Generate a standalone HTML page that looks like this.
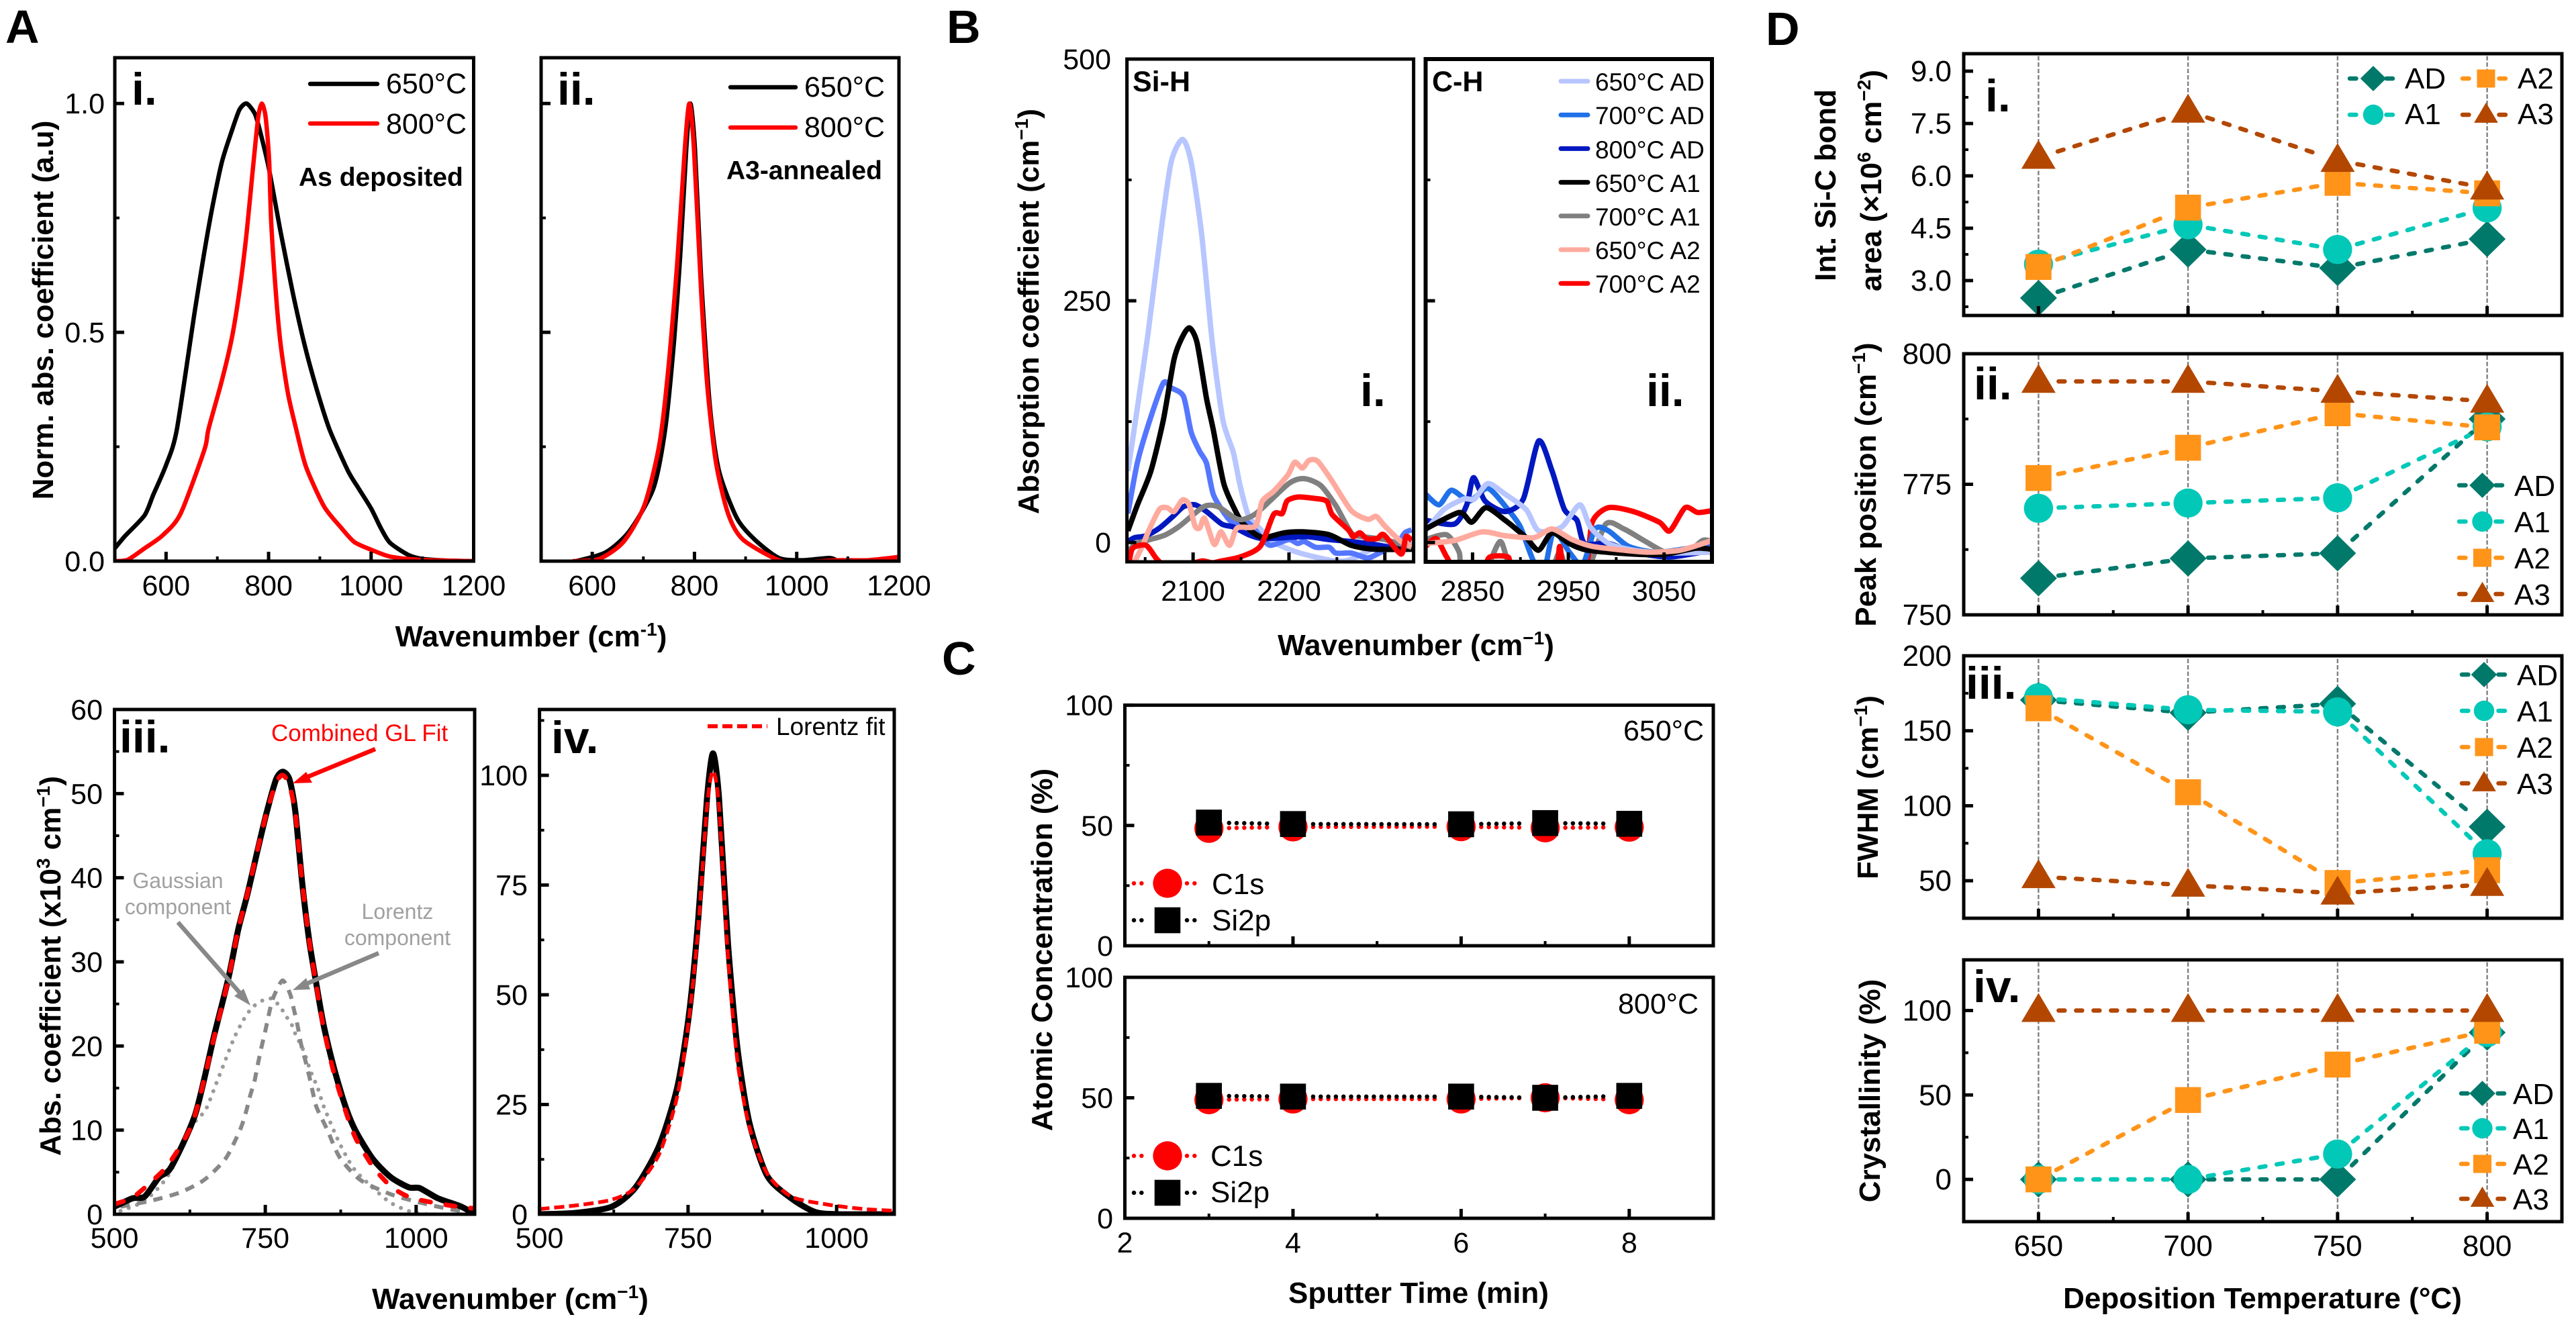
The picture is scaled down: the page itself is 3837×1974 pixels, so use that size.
<!DOCTYPE html>
<html lang="en">
<head>
<meta charset="utf-8">
<title>SiC characterisation figure</title>
<style>
html,body{margin:0;padding:0;background:#fff;}
svg{display:block;}
text{font-family:"Liberation Sans",sans-serif;fill:#000;}
.bt{font-weight:bold;font-size:44px;}
.pl{font-weight:bold;font-size:70px;}
.sub{font-weight:bold;font-size:68px;}
.lg{font-size:43px;}
</style>
</head>
<body>
<svg id="fig" xmlns="http://www.w3.org/2000/svg" width="3837" height="1974" viewBox="0 0 3837 1974">
<rect x="0" y="0" width="3837" height="1974" fill="#fff"/>
<g id="marks"></g>
<g>
<text class="pl" x="8" y="64">A</text>
<text class="pl" x="1410" y="64">B</text>
<text class="pl" x="1403" y="1005">C</text>
<text class="pl" x="2630" y="67">D</text>

<text class="sub" x="196" y="156">i.</text>
<text class="sub" x="830" y="156">ii.</text>
<text class="sub" x="178" y="1121">iii.</text>
<text class="sub" x="821" y="1122">iv.</text>
<text class="lg" x="575" y="139">650°C</text>
<text class="lg" x="575" y="199">800°C</text>
<text class="lg" x="1198" y="144">650°C</text>
<text class="lg" x="1198" y="204">800°C</text>
<text x="445" y="277" font-size="39" font-weight="bold">As deposited</text>
<text x="1082" y="267" font-size="39" font-weight="bold">A3-annealed</text>
<text class="bt" x="791" y="963" text-anchor="middle">Wavenumber (cm<tspan dy="-16" font-size="28">-1</tspan><tspan dy="16">)</tspan></text>
<text class="bt" transform="translate(79,462) rotate(-90)" text-anchor="middle">Norm. abs. coefficient (a.u)</text>
<text x="404" y="1104" font-size="35" style="fill:#f00">Combined GL Fit</text>
<text x="265" y="1323" font-size="32" text-anchor="middle" style="fill:#a0a0a0">Gaussian</text>
<text x="265" y="1362" font-size="32" text-anchor="middle" style="fill:#a0a0a0">component</text>
<text x="592" y="1369" font-size="32" text-anchor="middle" style="fill:#a0a0a0">Lorentz</text>
<text x="592" y="1408" font-size="32" text-anchor="middle" style="fill:#a0a0a0">component</text>
<text x="1156" y="1095" font-size="37">Lorentz fit</text>
<text class="bt" x="760" y="1950" text-anchor="middle">Wavenumber (cm<tspan dy="-16" font-size="28">−1</tspan><tspan dy="16">)</tspan></text>
<text class="bt" transform="translate(90,1439) rotate(-90)" text-anchor="middle">Abs.  coefficient (x10<tspan dy="-16" font-size="28">3</tspan><tspan dy="16"> cm</tspan><tspan dy="-16" font-size="28">−1</tspan><tspan dy="16">)</tspan></text>

<text x="1687" y="136" font-size="43" font-weight="bold">Si-H</text>
<text x="2133" y="136" font-size="43" font-weight="bold">C-H</text>
<text class="sub" x="2026" y="605">i.</text>
<text class="sub" x="2452" y="605">ii.</text>
<text class="bt" x="2109" y="976" text-anchor="middle">Wavenumber (cm<tspan dy="-16" font-size="28">−1</tspan><tspan dy="16">)</tspan></text>
<text class="bt" transform="translate(1547,464) rotate(-90)" text-anchor="middle">Absorption coefficient (cm<tspan dy="-16" font-size="28">−1</tspan><tspan dy="16">)</tspan></text>
<g font-size="37">
<text x="2376" y="135">650°C AD</text>
<text x="2376" y="185">700°C AD</text>
<text x="2376" y="236">800°C AD</text>
<text x="2376" y="286">650°C A1</text>
<text x="2376" y="336">700°C A1</text>
<text x="2376" y="386">650°C A2</text>
<text x="2376" y="436">700°C A2</text>
</g>

<text class="lg" x="2418" y="1103">650°C</text>
<text class="lg" x="2410" y="1510">800°C</text>
<text font-size="44" x="1805" y="1332">C1s</text>
<text font-size="44" x="1805" y="1386">Si2p</text>
<text font-size="44" x="1803" y="1737">C1s</text>
<text font-size="44" x="1803" y="1791">Si2p</text>
<text class="bt" x="2113" y="1941" text-anchor="middle">Sputter Time (min)</text>
<text class="bt" transform="translate(1567,1415) rotate(-90)" text-anchor="middle">Atomic Concentration (%)</text>

<text class="sub" x="2957" y="166">i.</text>
<text class="sub" x="2940" y="595">ii.</text>
<text class="sub" x="2928" y="1041">iii.</text>
<text class="sub" x="2939" y="1493">iv.</text>
<text class="bt" transform="translate(2734,276) rotate(-90)" text-anchor="middle">Int. Si-C bond</text>
<text class="bt" transform="translate(2802,269) rotate(-90)" text-anchor="middle">area (×10<tspan dy="-16" font-size="28">6</tspan><tspan dy="16"> cm</tspan><tspan dy="-16" font-size="28">−2</tspan><tspan dy="16">)</tspan></text>
<text class="bt" transform="translate(2794,722) rotate(-90)" text-anchor="middle">Peak position (cm<tspan dy="-16" font-size="28">−1</tspan><tspan dy="16">)</tspan></text>
<text class="bt" transform="translate(2797,1173) rotate(-90)" text-anchor="middle">FWHM (cm<tspan dy="-16" font-size="28">−1</tspan><tspan dy="16">)</tspan></text>
<text class="bt" transform="translate(2800,1625) rotate(-90)" text-anchor="middle">Crystallinity (%)</text>
<text class="bt" x="3370" y="1949" text-anchor="middle">Deposition Temperature (°C)</text>
<g font-size="44">
<text x="3582" y="132">AD</text>
<text x="3582" y="185">A1</text>
<text x="3750" y="132">A2</text>
<text x="3750" y="185">A3</text>
<text x="3745" y="739">AD</text>
<text x="3745" y="793">A1</text>
<text x="3745" y="847">A2</text>
<text x="3745" y="901">A3</text>
<text x="3749" y="1021">AD</text>
<text x="3749" y="1075">A1</text>
<text x="3749" y="1129">A2</text>
<text x="3749" y="1183">A3</text>
<text x="3743" y="1645">AD</text>
<text x="3743" y="1697">A1</text>
<text x="3743" y="1750">A2</text>
<text x="3743" y="1802">A3</text>
</g>
</g>
</svg>
<script>
/* ---------- Panel A.i ---------- */
const a1BlackX=[500,520,558,575,600,621,657,685,708,727,743,757,773,783,800.6,824,847.5,871,894,919,955,975,1000,1020,1037,1072,1100,1150,1200];
const a1BlackY=[.028,.055,.1,.145,.21,.2875,.5535,.742,.868,.936,.986,1,.978,.941,.858,.716,.585,.469,.375,.2875,.197,.16,.115,.07,.04,.014,.005,.001,0];
const a1RedX=[500,525,558,593,628,675,682.5,708,727,740.5,754.5,764,773,780,786.6,794,801,805,815,824,838,854,873,908,940,967,1000,1037,1095,1200];
const a1RedY=[0,.003,.028,.056,.103,.244,.2875,.391,.48,.569,.69,.795,.899,.972,1,.972,.878,.742,.575,.469,.365,.2875,.206,.12,.075,.042,.025,.01,.003,0];
/* ---------- Panel A.ii ---------- */
const a2BlackX=[568,626,673,720,743,760,772,784,792,801,813,830,848,883,918,965,1011,1064,1081];
const a2BlackY=[0,.019,.066,.16,.29,.48,.665,.9,1,.9,.62,.34,.197,.094,.047,.007,.002,.007,0];
const a2RedX=[562,614,661,702,731,748,766,781,790,799,813,825,842,866,895,965,1011,1081,1140,1198];
const a2RedY=[0,.005,.042,.122,.253,.41,.647,.9,1,.9,.59,.384,.216,.103,.047,.002,-.002,.002,.002,.009];
/* ---------- Panel A.iii ---------- */
const a3DataX=[500,530,550,574,594,634,665,689,705,720.6,736,752,768,779,790,799.6,811,823,835,847,863,882,899,928,958,988,1006,1036,1075,1097];
const a3DataY=[.9,1.9,2.1,4.4,5.6,11.9,21.2,28.1,33.8,38.1,42.9,47.7,51.7,52.6,51.7,48,39.5,32.4,27.2,22.4,17.6,13,10,6.6,4.4,3.2,3.1,1.9,.9,0];
const a3FitX=[500,530,560,590,630,665,689,705,720,736,752,768,779,790,800,811,823,835,847,863,882,900,930,960,990,1020,1060,1095];
const a3FitY=[1.2,2,3.8,6,11,21,28,33.8,38,43,47.7,51.3,52.2,51,47.5,39.5,32.4,27,22,17,12.5,9,5.5,3.2,2,1.5,1,.7];
const a3GaussX=[510,550,589,629,651,669,681,698.6,713,723,732,748,762,776,785,794,800,813.7,825,837,847,872,897,932,957,987,1016,1095];
const a3GaussY=[.4,1.6,4.6,10.5,12.4,15.6,17.8,21,23,24.1,24.8,25.5,25.6,24.5,23.5,22.5,21.4,19.4,17,15,12.8,8.6,5.4,2.9,1.4,.4,0,0];
const a3LorentzX=[510,560,609,649,684,708,717.8,724.6,732,737.6,743.5,750,756,763,778.5,791,797.6,803.6,808.7,817,822.9,829,835,853,873,907,957,1006,1056,1095];
const a3LorentzY=[.9,1.6,2.6,4.1,6.6,10,12.1,14,15.8,17.8,19.8,21.8,23.8,25.7,27.8,26.2,24.3,22.4,20.4,18.1,16.4,14.4,12.7,10,6.8,4.1,2.4,1.4,.6,.15];
/* ---------- Panel A.iv ---------- */
const a4DataX=[500,561,621,661,701,732,752,767,782,792,802,817,833,853,883,924,964,1005,1096];
const a4DataY=[0,.3,1.7,6,15.5,29,46,67,95,105,95,62,38,21,8.8,3.6,.5,0,0];
const a4FitX=[500,561,621,661,701,732,752,767,782,792,802,817,833,853,883,924,985,1045,1096];
const a4FitY=[1.2,2,3.3,6,13.6,27,45,65,93,101,93,59,35,20,9.3,4,2.2,1.2,.8];
/* ---------- Panel B.i (Si-H) ---------- */
const bi650adX=[2032,2042,2053,2066,2077,2089,2098,2109,2120,2131,2142,2149,2158,2170,2181,2200,2219,2247,2263,2289,2312,2330];
const bi650adY=[74,140,216,318,393,417,393,318,207,127,93,59,27,14,2,-7,-13,-19,-18,-6,-2,-2];
const bi700adX=[2032,2042,2055,2069,2077,2090,2098,2107,2114,2121,2132,2142,2158,2172,2181,2200,2209,2216,2228,2242,2249,2265,2282,2296,2312,2321,2328];
const bi700adY=[30,83,127,165,160,151,114,94,82,50,31,20,20,4,-3,3,-1,1,-5,-5,-11,-11,-16,-10,-2,10,13];
const bi800adX=[2032,2039,2051,2065,2079,2090,2102,2114,2130,2142,2158,2172,2195,2219,2242,2265,2289,2312,2330];
const bi800adY=[1,5,7,15,27,37,39,32,19,16,8,4,5,6,3,1,-2,-6,-6];
const bi650a1X=[2032,2042,2056,2069,2080,2088,2096,2104,2114,2121,2132,2144,2151,2163,2174,2195,2214,2242,2265,2289,2330];
const bi650a1Y=[12,39,74,127,189,211,222,207,149,117,61,33,21,10,5,10,11,8,-3,-7,-7];
const bi700a1X=[2032,2041,2069,2086,2111,2126,2144,2153,2167,2200,2216,2233,2249,2265,2277,2300,2328];
const bi700a1Y=[-10,-1,7,17,37,37,25,24,31,61,66,59,38,10,6,3,-5];
const bi650a2X=[2039,2046,2055,2065,2073,2080,2089,2096,2102,2107,2112,2122,2129,2138,2146,2165,2172,2184,2199,2206,2214,2221,2230,2244,2265,2282,2291,2300,2317,2328];
const bi650a2Y=[-20,-6,15,34.5,36,32,44,39,17,15,25,-2,11,-3,15,17,42.5,53,70,83,77,85,84,65,33,24,27,17,1,-4];
const bi700a2X=[2033,2037,2051,2062,2070,2100,2110,2120,2130,2149,2170,2184,2193,2198,2209,2223,2239,2245,2262,2267,2274,2281,2292,2299,2317,2322,2328];
const bi700a2Y=[-22,-6,-3,-17,-22,-21,-19,-21,-19,-15,-4,29,30,43,47,46,43,29,13,6,10,4,4,8,-12,6,2];
/* ---------- Panel B.ii (C-H) ---------- */
const bii650adX=[2801,2820,2841,2852,2866,2884,2906,2919,2943,2962,2973,2992,3018,3051,3100];
const bii650adY=[12,34,45,45,61,50,34,12,16,39,16,-1,-8,-11,-10];
const bii700adX=[2801,2815,2828,2847,2866,2887,2900,2914,2925,2935,2951,2965,2978,2992,3013,3045,3100];
const bii700adY=[50,39,54,43,56,34,16,-20,-28,12,-10,-23,14,12,-4,-10,-2];
const bii800adX=[2801,2831,2844,2851,2863,2884,2903,2919,2933,2946,2959,2967,2992,3018,3056,3100];
const bii800adY=[23,19,39,67,43,32,45,105,74,34,23,-1,-1,-10,-15,-8];
const bii650a1X=[2801,2836,2849,2864,2884,2906,2919,2933,2951,2970,3018,3051,3083,3100];
const bii650a1Y=[14,31,21,36,23,5,-8,10,-1,-8,-12,-12,-6,-7];
const bii700a1X=[2801,2823,2836,2839,2863,2879,2892,2930,2941,2949,2970,2989,3008,3029,3051,3072,3090,3100];
const bii700a1Y=[3,8,-10,-28,-28,1,-28,-28,-10,-28,-28,19,14,2,-10,-12,2,1];
const bii650a2X=[2801,2831,2860,2884,2914,2933,2954,2975,3008,3034,3067,3100];
const bii650a2Y=[-1,2,11,7,5,14,3,-4,-8,-10,-8,2];
const bii700a2X=[2801,2812,2823,2833,2860,2868,2887,2893,2935,2941,2946,2968,2975,2992,3018,3045,3056,3072,3085,3100];
const bii700a2Y=[-4,4,-15,-28,-28,-15,-15,-28,-28,-4,-28,-28,21,36,32,21,12,36,31,33];
/* ---------- Panel C ---------- */
const cTimes=[3,4,6,7,8];
const cTopC1s=[48.8,49.4,49.5,49,49.3];
const cTopSi2p=[51.2,50.6,50.5,51,50.7];
const cBotC1s=[49.2,49.5,49.5,50,49.2];
const cBotSi2p=[50.8,50.5,50.5,50,50.8];
/* ---------- Panel D ---------- */
const dTemps=[650,700,750,800];
const d1AD=[2.5,3.89,3.36,4.19];
const d1A1=[3.47,4.6,3.89,5.08];
const d1A2=[3.39,5.09,5.8,5.5];
const d1A3=[6.53,7.85,6.44,5.65];
const d2AD=[757,760.8,761.8,787.5];
const d2A1=[770.4,771.4,772.4,786];
const d2A2=[776.2,782,788.6,785.9];
const d2A3=[794.7,794.7,792.8,790.9];
const d3AD=[170.5,162,168,86];
const d3A1=[172,164,162.6,68];
const d3A2=[165,109,48.5,57];
const d3A3=[52.7,47,41.7,47.5];
const d4AD=[0,0,0,87];
const d4A1=[0,0,15,87];
const d4A2=[0,47,68,88];
const d4A3=[100,100,100,100];
/* ---------- Tick values and labels ---------- */
const aTopXMajor=[600,800,1000,1200];
const aTopXLabels=['600','800','1000','1200'];
const aTopXMinor=[700,900,1100];
const aTopYMajor=[0,.5,1];
const aTopYLabels=['0.0','0.5','1.0'];
const aTopYMinor=[.25,.75];
const aBotXMajor=[500,750,1000];
const aBotXLabels=['500','750','1000'];
const aBotXMinor=[625,875];
const a3YMajor=[0,10,20,30,40,50,60];
const a3YLabels=['0','10','20','30','40','50','60'];
const a3YMinor=[5,15,25,35,45,55];
const a4YMajor=[0,25,50,75,100];
const a4YLabels=['0','25','50','75','100'];
const a4YMinor=[12.5,37.5,62.5,87.5,112.5];
const b1XMajor=[2100,2200,2300];
const b1XLabels=['2100','2200','2300'];
const b1XMinor=[2050,2150,2250];
const b2XMajor=[2850,2950,3050];
const b2XLabels=['2850','2950','3050'];
const b2XMinor=[2900,3000];
const bYMajor=[0,250,500];
const bYLabels=['0','250','500'];
const bYMinor=[125,375];
const cXMajor=[2,4,6,8];
const cXLabels=['2','4','6','8'];
const cXMinor=[3,5,7];
const cYMajor=[0,50,100];
const cYLabels=['0','50','100'];
const cYMinor=[25,75];
const dXMajor=[650,700,750,800];
const dXLabels=['650','700','750','800'];
const dXMinor=[675,725,775];
const d1YMajor=[3,4.5,6,7.5,9];
const d1YLabels=['3.0','4.5','6.0','7.5','9.0'];
const d1YMinor=[2.25,3.75,5.25,6.75,8.25];
const d2YMajor=[750,775,800];
const d2YLabels=['750','775','800'];
const d2YMinor=[762.5,787.5];
const d3YMajor=[50,100,150,200];
const d3YLabels=['50','100','150','200'];
const d3YMinor=[75,125,175];
const d4YMajor=[0,50,100];
const d4YLabels=['0','50','100'];
const d4YMinor=[25,75];

const NS='http://www.w3.org/2000/svg';
const root=document.getElementById('marks');
let clipCount=0;
function mk(tag,parent,attrs,name){
  const el=document.createElementNS(NS,tag);
  for(const k in attrs) el.setAttribute(k,attrs[k]);
  
  
  parent.appendChild(el);
  return el;
}
function axes(o){
  const g=mk('g',root,{},o.name);
  const sx=v=>o.px[0]+(v-o.xlim[0])/(o.xlim[1]-o.xlim[0])*(o.px[1]-o.px[0]);
  const sy=v=>o.py[0]+(v-o.ylim[0])/(o.ylim[1]-o.ylim[0])*(o.py[1]-o.py[0]);
  const id='clip'+(clipCount++);
  const cp=mk('clipPath',g,{id:id},o.name+'-clip');
  mk('rect',cp,{x:o.px[0],y:o.py[1],width:o.px[1]-o.px[0],height:o.py[0]-o.py[1]},o.name+'-clip-rect');
  const plot=mk('g',g,{'clip-path':'url(#'+id+')'},o.name+'-curves');
  const free=mk('g',g,{},o.name+'-series');
  return {g,sx,sy,plot,free,o};
}
function finish(a){
  const o=a.o,g=a.g,lw=o.lw||5;
  const maj=14,min=7;
  const tick=(x1,y1,x2,y2,n,w)=>mk('line',g,{x1,y1,x2,y2,stroke:'#000','stroke-width':w},n);
  (o.xMajor||[]).forEach((v,i)=>{
    tick(a.sx(v),o.py[0],a.sx(v),o.py[0]-maj,o.name+'-x-tick',5);
    if(o.xLabels){
      const t=mk('text',g,{x:a.sx(v),y:o.xBase,'text-anchor':'middle','font-size':o.fs||43},o.name+'-x-tick-label');
      t.textContent=o.xLabels[i];
    }
  });
  (o.xMinor||[]).forEach(v=>tick(a.sx(v),o.py[0],a.sx(v),o.py[0]-min,o.name+'-x-minor-tick',4));
  (o.yMajor||[]).forEach((v,i)=>{
    tick(o.px[0],a.sy(v),o.px[0]+maj,a.sy(v),o.name+'-y-tick',5);
    if(o.yLabels){
      const t=mk('text',g,{x:o.yRight,y:a.sy(v)+15,'text-anchor':'end','font-size':o.fs||43},o.name+'-y-tick-label');
      t.textContent=o.yLabels[i];
    }
  });
  (o.yMinor||[]).forEach(v=>tick(o.px[0],a.sy(v),o.px[0]+min,a.sy(v),o.name+'-y-minor-tick',4));
  mk('rect',g,{x:o.px[0],y:o.py[1],width:o.px[1]-o.px[0],height:o.py[0]-o.py[1],fill:'none',stroke:'#000','stroke-width':lw},o.name+'-frame');
}
/* smooth curve through the data points */
function curve(a,xs,ys,style,name){
  const p=xs.map((x,i)=>[a.sx(x),a.sy(ys[i])]);
  let d='M'+p[0][0].toFixed(1)+' '+p[0][1].toFixed(1);
  for(let i=0;i<p.length-1;i++){
    const p0=p[Math.max(i-1,0)],p1=p[i],p2=p[i+1],p3=p[Math.min(i+2,p.length-1)];
    const c1=[p1[0]+(p2[0]-p0[0])/8,p1[1]+(p2[1]-p0[1])/8];
    const c2=[p2[0]-(p3[0]-p1[0])/8,p2[1]-(p3[1]-p1[1])/8];
    d+='C'+c1[0].toFixed(1)+' '+c1[1].toFixed(1)+' '+c2[0].toFixed(1)+' '+c2[1].toFixed(1)+' '+p2[0].toFixed(1)+' '+p2[1].toFixed(1);
  }
  const at=Object.assign({d:d,fill:'none','stroke-linejoin':'round'},style);
  return mk('path',a.plot,at,name);
}
function marker(parent,kind,x,y,color,k,name){
  if(kind==='diamond'){
    mk('polygon',parent,{points:[[x-27.5*k,y],[x,y-27*k],[x+27.5*k,y],[x,y+27*k]].map(q=>q.join(',')).join(' '),fill:color},name);
  }else if(kind==='circle'){
    mk('ellipse',parent,{cx:x,cy:y,rx:21.7*k,ry:21.7*k,fill:color},name);
  }else if(kind==='square'){
    mk('rect',parent,{x:x-19.3*k,y:y-19.3*k,width:38.6*k,height:38.6*k,fill:color},name);
  }else{
    mk('polygon',parent,{points:[[x-25.5*k,y+17*k],[x,y-26*k],[x+25.5*k,y+17*k]].map(q=>q.join(',')).join(' '),fill:color},name);
  }
}
function series(a,xs,ys,kind,color,dash,lw,name){
  const gg=mk('g',a.free,{},name);
  const gap=30;
  for(let i=0;i<xs.length-1;i++){
    const x1=a.sx(xs[i]),y1=a.sy(ys[i]),x2=a.sx(xs[i+1]),y2=a.sy(ys[i+1]);
    const L=Math.hypot(x2-x1,y2-y1);
    if(L<=2*gap) continue;
    const ux=(x2-x1)/L,uy=(y2-y1)/L;
    mk('line',gg,{x1:x1+ux*gap,y1:y1+uy*gap,x2:x2-ux*gap,y2:y2-uy*gap,stroke:color,'stroke-width':lw,'stroke-dasharray':dash,'stroke-linecap':'round'},name+'-segment');
  }
  xs.forEach((x,i)=>marker(gg,kind,a.sx(x),a.sy(ys[i]),color,1,name+'-point'));
}
function legendLine(parent,x1,x2,y,color,width,dash,name){
  const at={x1,x2,y1:y,y2:y,stroke:color,'stroke-width':width};
  if(dash){
    at['stroke-dasharray']=dash;
  }else{
    at['stroke-linecap']='round';
  }
  return mk('line',parent,at,name);
}
function arrow(parent,sx1,sy1,sx2,sy2,tip,b1,b2,color,name){
  mk('line',parent,{x1:sx1,y1:sy1,x2:sx2,y2:sy2,stroke:color,'stroke-width':6.5},name+'-shaft');
  mk('polygon',parent,{points:[tip,b1,b2].map(q=>q.join(',')).join(' '),fill:color},name+'-head');
}

const black='#000',red='#f00';
/* ===== A.i ===== */
const ai=axes({name:'chart-a-i',px:[171,705.5],py:[836,86],xlim:[500,1200],ylim:[0,1.1],xMajor:aTopXMajor,xLabels:aTopXLabels,xMinor:aTopXMinor,yMajor:aTopYMajor,yLabels:aTopYLabels,yMinor:aTopYMinor,xBase:887,yRight:156});
curve(ai,a1BlackX,a1BlackY,{stroke:black,'stroke-width':6.5},'a-i-650-curve');
curve(ai,a1RedX,a1RedY,{stroke:red,'stroke-width':6.5},'a-i-800-curve');
legendLine(ai.free,462,562,125,black,6.5,null,'a-i-legend-line-650');
legendLine(ai.free,462,562,184,red,6.5,null,'a-i-legend-line-800');
finish(ai);
/* ===== A.ii ===== */
const aii=axes({name:'chart-a-ii',px:[806,1339],py:[836,86],xlim:[500,1200],ylim:[0,1.1],xMajor:aTopXMajor,xLabels:aTopXLabels,xMinor:aTopXMinor,yMajor:aTopYMajor,yMinor:aTopYMinor,xBase:887});
curve(aii,a2BlackX,a2BlackY,{stroke:black,'stroke-width':6.5},'a-ii-650-curve');
curve(aii,a2RedX,a2RedY,{stroke:red,'stroke-width':6.5},'a-ii-800-curve');
legendLine(aii.free,1088,1185,130,black,6.5,null,'a-ii-legend-line-650');
legendLine(aii.free,1088,1185,190,red,6.5,null,'a-ii-legend-line-800');
finish(aii);
/* ===== A.iii ===== */
const aiii=axes({name:'chart-a-iii',px:[170.5,707],py:[1809,1057],xlim:[500,1097],ylim:[0,60],xMajor:aBotXMajor,xLabels:aBotXLabels,xMinor:aBotXMinor,yMajor:a3YMajor,yLabels:a3YLabels,yMinor:a3YMinor,xBase:1859,yRight:153});
curve(aiii,a3GaussX,a3GaussY,{stroke:'#9a9a9a','stroke-width':6,'stroke-dasharray':'0.01 13','stroke-linecap':'round'},'gaussian-component-curve');
curve(aiii,a3LorentzX,a3LorentzY,{stroke:'#888','stroke-width':6,'stroke-dasharray':'14 11'},'lorentz-component-curve');
curve(aiii,a3DataX,a3DataY,{stroke:black,'stroke-width':9},'measured-curve');
curve(aiii,a3FitX,a3FitY,{stroke:red,'stroke-width':7,'stroke-dasharray':'14 23','stroke-linecap':'round'},'combined-gl-fit-curve');
arrow(aiii.free,559,1116,459,1157,[436,1167],[456,1150],[465,1166],red,'combined-fit-arrow');
arrow(aiii.free,265,1374,358,1480,[373,1498],[363,1473],[349,1484],'#888','gaussian-arrow');
arrow(aiii.free,564,1420,458,1465,[436,1475],[456,1457],[462,1474],'#888','lorentz-arrow');
finish(aiii);
/* ===== A.iv ===== */
const aiv=axes({name:'chart-a-iv',px:[803.6,1332],py:[1809,1057],xlim:[500,1097],ylim:[0,115],xMajor:aBotXMajor,xLabels:aBotXLabels,xMinor:aBotXMinor,yMajor:a4YMajor,yLabels:a4YLabels,yMinor:a4YMinor,xBase:1859,yRight:786});
curve(aiv,a4DataX,a4DataY,{stroke:black,'stroke-width':9},'iv-measured-curve');
curve(aiv,a4FitX,a4FitY,{stroke:red,'stroke-width':5.5,'stroke-dasharray':'15 7'},'lorentz-fit-curve');
legendLine(aiv.free,1054,1143,1082,red,6,'15 7','lorentz-fit-legend-line');
finish(aiv);

/* ===== B ===== */
const cAD1='#b8c6ff',cAD2='#5577ff',cAD2b='#2070e8',cAD3='#0018c0',cA1a='#000',cA1b='#808080',cA2a='#ffaa9e',cA2b='#f00';
const bi=axes({name:'chart-b-i',px:[1678.6,2105.6],py:[837,88],xlim:[2031,2330],ylim:[-20,500],xMajor:b1XMajor,xLabels:b1XLabels,xMinor:b1XMinor,yMajor:bYMajor,yLabels:bYLabels,yMinor:bYMinor,xBase:895,yRight:1655,lw:5});
curve(bi,bi650adX,bi650adY,{stroke:cAD1,'stroke-width':8},'b-i-650-ad-curve');
curve(bi,bi700adX,bi700adY,{stroke:cAD2,'stroke-width':8},'b-i-700-ad-curve');
curve(bi,bi800adX,bi800adY,{stroke:cAD3,'stroke-width':8},'b-i-800-ad-curve');
curve(bi,bi650a1X,bi650a1Y,{stroke:cA1a,'stroke-width':8},'b-i-650-a1-curve');
curve(bi,bi700a1X,bi700a1Y,{stroke:cA1b,'stroke-width':8},'b-i-700-a1-curve');
curve(bi,bi650a2X,bi650a2Y,{stroke:cA2a,'stroke-width':8},'b-i-650-a2-curve');
curve(bi,bi700a2X,bi700a2Y,{stroke:cA2b,'stroke-width':8},'b-i-700-a2-curve');
finish(bi);
const bii=axes({name:'chart-b-ii',px:[2123.5,2550],py:[837,88],xlim:[2801,3100],ylim:[-20,500],xMajor:b2XMajor,xLabels:b2XLabels,xMinor:b2XMinor,yMajor:bYMajor,yMinor:bYMinor,xBase:895,lw:6});
curve(bii,bii700a1X,bii700a1Y,{stroke:cA1b,'stroke-width':8},'b-ii-700-a1-curve');
curve(bii,bii700a2X,bii700a2Y,{stroke:cA2b,'stroke-width':8},'b-ii-700-a2-curve');
curve(bii,bii700adX,bii700adY,{stroke:cAD2b,'stroke-width':8},'b-ii-700-ad-curve');
curve(bii,bii800adX,bii800adY,{stroke:cAD3,'stroke-width':8},'b-ii-800-ad-curve');
curve(bii,bii650adX,bii650adY,{stroke:cAD1,'stroke-width':8},'b-ii-650-ad-curve');
curve(bii,bii650a1X,bii650a1Y,{stroke:cA1a,'stroke-width':8},'b-ii-650-a1-curve');
curve(bii,bii650a2X,bii650a2Y,{stroke:cA2a,'stroke-width':8},'b-ii-650-a2-curve');
const bLegendColors=[cAD1,cAD2b,cAD3,cA1a,cA1b,cA2a,cA2b];
const bLegendNames=['650-ad','700-ad','800-ad','650-a1','700-a1','650-a2','700-a2'];
bLegendColors.forEach((c,i)=>legendLine(bii.free,2325,2365,121+i*50.2,c,7,null,'b-legend-line-'+bLegendNames[i]));
finish(bii);

/* ===== C ===== */
function cDots(parent,x1,x2,y,color,name){
  mk('line',parent,{x1,x2,y1:y,y2:y,stroke:color,'stroke-width':6.5,'stroke-dasharray':'0.01 11.3','stroke-linecap':'round'},name);
}
function cPanel(nm,py,c1s,si2p,xLab,yLeg){
  const a=axes({name:nm,px:[1675.5,2552],py:py,xlim:[2,9],ylim:[0,100],xMajor:cXMajor,xLabels:xLab,xMinor:cXMinor,yMajor:cYMajor,yLabels:cYLabels,yMinor:cYMinor,xBase:1866,yRight:1658});
  series(a,cTimes,c1s,'circle',red,'0.01 11.3',6.5,nm+'-c1s');
  series(a,cTimes,si2p,'square',black,'0.01 11.3',6.5,nm+'-si2p');
  cDots(a.free,1689,1701,yLeg[0],red,nm+'-legend-c1s-line-left');
  cDots(a.free,1768,1780,yLeg[0],red,nm+'-legend-c1s-line-right');
  marker(a.free,'circle',1739,yLeg[0],red,1,nm+'-legend-c1s-marker');
  cDots(a.free,1689,1701,yLeg[1],black,nm+'-legend-si2p-line-left');
  cDots(a.free,1768,1780,yLeg[1],black,nm+'-legend-si2p-line-right');
  marker(a.free,'square',1739,yLeg[1],black,1,nm+'-legend-si2p-marker');
  finish(a);
}
cPanel('chart-c-650',[1409,1050.6],cTopC1s,cTopSi2p,null,[1316,1371]);
cPanel('chart-c-800',[1815,1456],cBotC1s,cBotSi2p,cXLabels,[1722,1777]);

/* ===== D ===== */
const colAD='#00796b',colA1='#02c8b8',colA2='#ff9419',colA3='#b34700';
function dPanel(nm,py,ylim,yMaj,yLab,yMin,xLab,vals,legend){
  const a=axes({name:nm,px:[2925,3816],py:py,xlim:[625,825],ylim:ylim,xMajor:dXMajor,xLabels:xLab,xMinor:dXMinor,yMajor:yMaj,yLabels:yLab,yMinor:yMin,xBase:1871,yRight:2907,fs:44});
  dTemps.forEach(t=>mk('line',a.plot,{x1:a.sx(t),x2:a.sx(t),y1:py[0],y2:py[1],stroke:'#808080','stroke-width':2.4,'stroke-dasharray':'6.5 3'},nm+'-guide-line'));
  series(a,dTemps,vals[0],'diamond',colAD,'9 17',6.5,nm+'-ad');
  series(a,dTemps,vals[1],'circle',colA1,'9 17',6.5,nm+'-a1');
  series(a,dTemps,vals[2],'square',colA2,'9 17',6.5,nm+'-a2');
  series(a,dTemps,vals[3],'triangle',colA3,'9 17',6.5,nm+'-a3');
  const kinds=['diamond','circle','square','triangle'],cols=[colAD,colA1,colA2,colA3],nn=['ad','a1','a2','a3'];
  legend.forEach((l,i)=>{
    legendLine(a.free,l[0]+3,l[0]+12.5,l[2],cols[i],6.5,null,nm+'-legend-line-left-'+nn[i]);
    legendLine(a.free,l[0]+57.5,l[0]+67,l[2],cols[i],6.5,null,nm+'-legend-line-right-'+nn[i]);
    marker(a.free,kinds[i],l[1],l[2],cols[i],0.7,nm+'-legend-marker-'+nn[i]);
  });
  finish(a);
}
dPanel('chart-d-i',[470,80],[2,9.5],d1YMajor,d1YLabels,d1YMinor,null,[d1AD,d1A1,d1A2,d1A3],[[3497,3535,117],[3497,3535,171],[3665,3703,117],[3665,3703,171]]);
dPanel('chart-d-ii',[916,527],[750,800],d2YMajor,d2YLabels,d2YMinor,null,[d2AD,d2A1,d2A2,d2A3],[[3660,3697.5,723],[3660,3697.5,777],[3660,3697.5,831],[3660,3697.5,885]]);
dPanel('chart-d-iii',[1368,977],[25,200],d3YMajor,d3YLabels,d3YMinor,null,[d3AD,d3A1,d3A2,d3A3],[[3664,3700,1005],[3664,3700,1059],[3664,3700,1113],[3664,3700,1167]]);
dPanel('chart-d-iv',[1820,1430],[-25,130],d4YMajor,d4YLabels,d4YMinor,dXLabels,[d4AD,d4A1,d4A2,d4A3],[[3663,3697.5,1629],[3663,3697.5,1681],[3663,3697.5,1734],[3663,3697.5,1786]]);
</script>
</body>
</html>
